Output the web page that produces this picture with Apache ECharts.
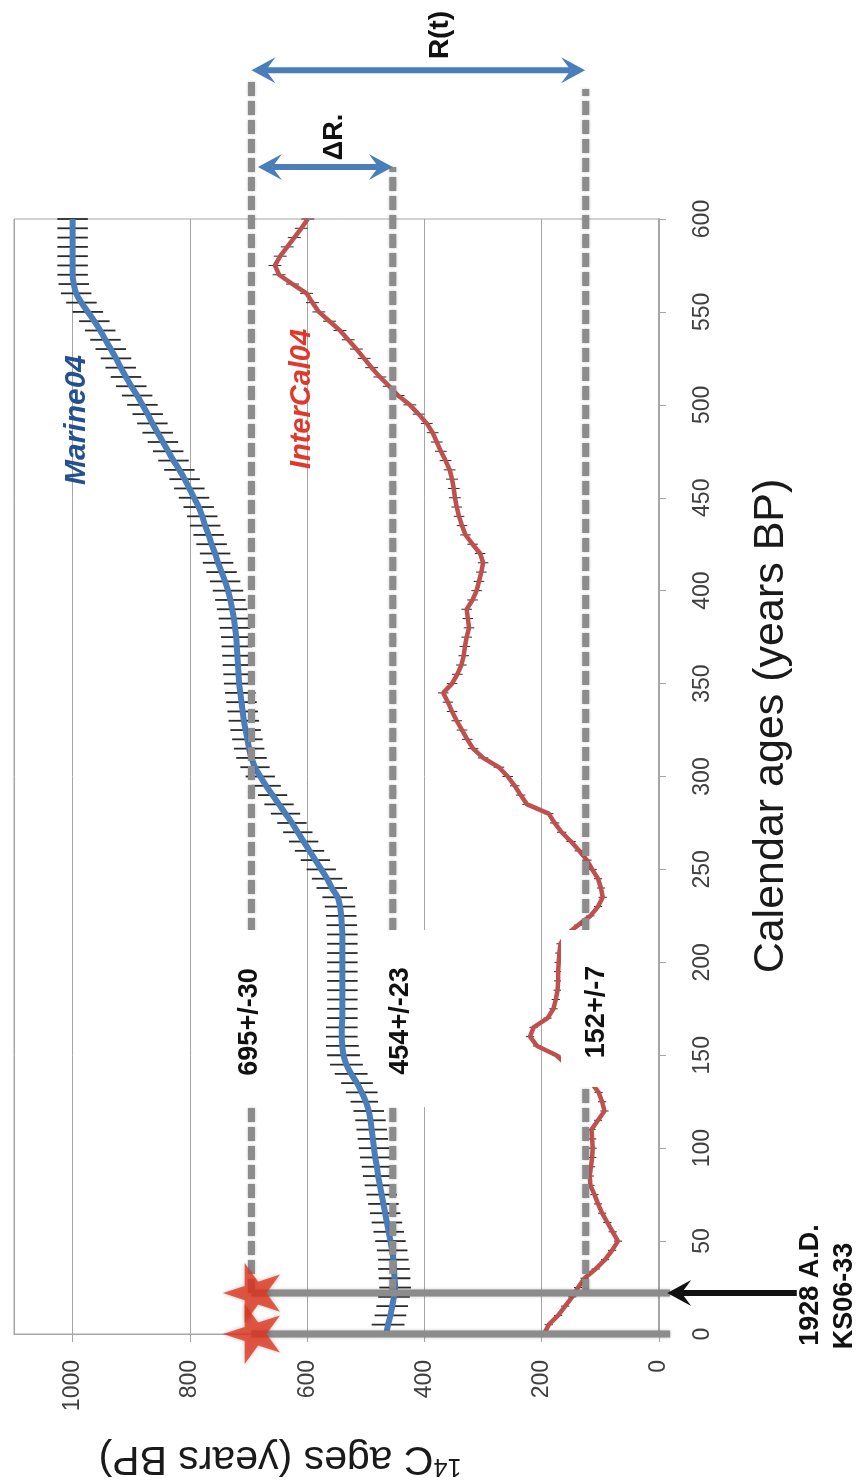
<!DOCTYPE html>
<html>
<head>
<meta charset="utf-8">
<script src="https://cdn.jsdelivr.net/npm/echarts@6/dist/echarts.min.js"></script>
<style>
  html, body { margin: 0; padding: 0; background: #fff; }
  #chart { width: 861px; height: 1484px; }
</style>
</head>
<body>
<div id="chart"></div>
<script>
// calendar ages (years BP), one point every 5 years
const calAges = [
  0, 5, 10, 15, 20, 25, 30, 35, 40, 45,
  50, 55, 60, 65, 70, 75, 80, 85, 90, 95,
  100, 105, 110, 115, 120, 125, 130, 135, 140, 145,
  150, 155, 160, 165, 170, 175, 180, 185, 190, 195,
  200, 205, 210, 215, 220, 225, 230, 235, 240, 245,
  250, 255, 260, 265, 270, 275, 280, 285, 290, 295,
  300, 305, 310, 315, 320, 325, 330, 335, 340, 345,
  350, 355, 360, 365, 370, 375, 380, 385, 390, 395,
  400, 405, 410, 415, 420, 425, 430, 435, 440, 445,
  450, 455, 460, 465, 470, 475, 480, 485, 490, 495,
  500, 505, 510, 515, 520, 525, 530, 535, 540, 545,
  550, 555, 560, 565, 570, 575, 580, 585, 590, 595, 600
];

// Marine04 14C ages
const marine04 = [
  465, 462, 458, 455, 452, 450, 451, 452, 453, 455,
  458, 461, 464, 467, 470, 473, 476, 479, 481, 484,
  486, 488, 490, 492, 495, 500, 507, 515, 525, 533,
  538, 540, 541, 541, 540, 540, 540, 540, 540, 540,
  540, 540, 540, 540, 541, 542, 544, 548, 558, 566,
  576, 586, 596, 606, 616, 626, 637, 648, 659, 670,
  680, 689, 695, 699, 702, 705, 708, 710, 712, 714,
  716, 717, 718, 719, 720, 721, 723, 725, 728, 731,
  735, 740, 746, 752, 757, 763, 768, 774, 779, 785,
  793, 801, 809, 818, 828, 837, 846, 855, 864, 872,
  881, 890, 900, 909, 918, 926, 935, 944, 953, 963,
  974, 985, 994, 998, 1000, 1000, 1000, 1000, 1000, 1000, 1000
];
const marine04Err = [
  28, 28, 27, 27, 27, 27, 27, 27, 26, 26,
  26, 26, 26, 26, 26, 26, 26, 26, 26, 26,
  26, 26, 26, 26, 26, 26, 27, 27, 28, 28,
  28, 28, 27, 27, 26, 26, 26, 26, 26, 26,
  26, 26, 26, 26, 26, 26, 26, 26, 26, 26,
  25, 25, 25, 25, 25, 25, 25, 25, 25, 25,
  25, 25, 26, 26, 26, 26, 26, 26, 26, 26,
  26, 26, 26, 26, 26, 26, 26, 26, 26, 26,
  26, 26, 26, 26, 26, 26, 26, 26, 26, 26,
  26, 26, 26, 26, 26, 26, 26, 26, 26, 26,
  26, 26, 26, 26, 26, 26, 26, 26, 26, 26,
  26, 26, 26, 26, 26, 26, 26, 26, 26, 26, 26
];

// IntCal04 14C ages
const intcal04 = [
  196, 188, 172, 160, 148, 138, 127, 108, 92, 80,
  70, 79, 88, 97, 104, 110, 117, 118, 116, 114,
  113, 114, 115, 104, 93, 97, 103, 115, 135, 158,
  175, 208, 220, 214, 190, 180, 176, 173, 172, 172,
  171, 170, 168, 158, 138, 117, 104, 96, 99, 104,
  114, 123, 136, 150, 166, 178, 188, 225, 236, 246,
  258, 273, 300, 317, 327, 336, 345, 353, 360, 368,
  353, 344, 337, 333, 331, 328, 324, 326, 328, 318,
  311, 307, 303, 300, 305, 318, 330, 336, 341, 345,
  348, 350, 353, 357, 364, 372, 379, 386, 396, 410,
  425, 445, 460, 476, 490, 503, 516, 530, 544, 562,
  580, 591, 601, 625, 648, 655, 646, 634, 622, 610, 599
];
const intcal04Err = [
  7, 7, 7, 7, 7, 7, 7, 7, 7, 7,
  7, 7, 7, 7, 7, 7, 7, 7, 7, 7,
  7, 7, 7, 7, 7, 7, 7, 7, 7, 7,
  7, 7, 7, 7, 7, 7, 7, 7, 7, 7,
  7, 7, 7, 7, 7, 7, 7, 7, 7, 7,
  8, 8, 8, 8, 8, 8, 8, 8, 8, 8,
  9, 9, 9, 9, 9, 9, 9, 9, 9, 9,
  9, 9, 9, 9, 9, 9, 9, 9, 9, 9,
  9, 9, 9, 9, 9, 9, 9, 9, 9, 9,
  10, 10, 10, 10, 10, 10, 10, 10, 10, 10,
  11, 11, 11, 11, 11, 11, 11, 11, 11, 11,
  11, 11, 11, 11, 11, 11, 11, 11, 11, 11, 11
];

// reference 14C ages (dashed lines), their labels and where they end (cal BP)
const refAges = [695, 454, 125];
const refLabels = ['695+/-30', '454+/-23', '152+/-7'];
const refTops = [676, 628, 670];

// sample KS06-33, collected 1928 A.D. = 22 cal BP, and the 0 BP line
const sampleCal = [0, 22];
const sampleAge = 695;
const lineEnd = -19;

// double arrows: [from 14C, to 14C, at cal BP]
const arrowsR = [[695, 126, 680], [684, 454, 628]];
// pointer arrow to the 1928 line
const arrow1928 = [[-235, -14, 22]];

const FONT = '"Liberation Sans", Arial, sans-serif';
const chart = echarts.init(document.getElementById('chart'));

function errBars(vals, errs, color, width) {
  return {
    type: 'custom',
    z: 2,
    silent: true,
    data: calAges.map((c, i) => [vals[i], c, errs[i]]),
    renderItem: function (params, api) {
      const v = api.value(0), c = api.value(1), e = api.value(2);
      const a = api.coord([v - e, c]);
      const b = api.coord([v + e, c]);
      return {
        type: 'line',
        shape: { x1: a[0], y1: a[1], x2: b[0], y2: b[1] },
        style: { stroke: color, lineWidth: width }
      };
    }
  };
}

function head(tip, dir, len, half, color) {
  const bx = tip[0] - dir[0] * len, by = tip[1] - dir[1] * len;
  const nx = -dir[1], ny = dir[0];
  const notch = [tip[0] - dir[0] * len * 0.6, tip[1] - dir[1] * len * 0.6];
  return {
    type: 'polygon',
    shape: { points: [tip, [bx + nx * half, by + ny * half], notch, [bx - nx * half, by - ny * half]] },
    style: { fill: color }
  };
}

function arrowSeries(data, color, both) {
  return {
    type: 'custom',
    z: 6,
    clip: false,
    silent: true,
    data: data,
    renderItem: function (params, api) {
      const p1 = api.coord([api.value(0), api.value(2)]);
      const p2 = api.coord([api.value(1), api.value(2)]);
      const d = Math.hypot(p2[0] - p1[0], p2[1] - p1[1]);
      const u = [(p2[0] - p1[0]) / d, (p2[1] - p1[1]) / d];
      const len = 24, half = 13;
      const s1 = both ? [p1[0] + u[0] * len * 0.6, p1[1] + u[1] * len * 0.6] : p1;
      const s2 = [p2[0] - u[0] * len * 0.6, p2[1] - u[1] * len * 0.6];
      const children = [{
        type: 'line',
        shape: { x1: s1[0], y1: s1[1], x2: s2[0], y2: s2[1] },
        style: { stroke: color, lineWidth: 6 }
      }, head(p2, u, len, half, color)];
      if (both) children.push(head(p1, [-u[0], -u[1]], len, half, color));
      return { type: 'group', children: children };
    }
  };
}

function label(text, x, y, font, fill, rot) {
  return {
    type: 'text', x: x, y: y, rotation: rot, z: 101,
    style: { text: text, font: font, fill: fill, align: 'center', verticalAlign: 'middle' }
  };
}

const boldF = 'bold 27px ' + FONT;

chart.setOption({
  animation: false,
  backgroundColor: '#fff',
  grid: {
    left: 14, right: 202, top: 219, bottom: 150,
    show: true, borderColor: '#a6a6a6', borderWidth: 1
  },
  xAxis: {
    type: 'value', inverse: true, min: 0, max: 1100, interval: 200, position: 'bottom',
    axisLine: { show: true, lineStyle: { color: '#a6a6a6' } },
    axisTick: { show: true, length: 8, lineStyle: { color: '#a6a6a6' } },
    axisLabel: {
      rotate: 90, margin: 26, color: '#404040', fontSize: 23, fontFamily: FONT, showMaxLabel: false,
      formatter: v => String(v)
    },
    splitLine: { show: true, lineStyle: { color: '#a6a6a6', width: 1 } }
  },
  yAxis: {
    type: 'value', min: 0, max: 600, interval: 50, position: 'right',
    axisLine: { show: true, lineStyle: { color: '#a6a6a6', width: 2 } },
    axisTick: { show: true, length: 7, lineStyle: { color: '#a6a6a6' } },
    axisLabel: { rotate: 90, margin: 32, color: '#404040', fontSize: 23, fontFamily: FONT },
    splitLine: { show: false }
  },
  series: [
    errBars(marine04, marine04Err, '#2b2b2b', 1.8),
    {
      name: 'Marine04', type: 'line', z: 3, smooth: 0.4, showSymbol: false, silent: true,
      data: calAges.map((c, i) => [marine04[i], c]),
      lineStyle: { color: '#4a7ebb', width: 6 }
    },
    errBars(intcal04, intcal04Err, '#2b2b2b', 1),
    {
      name: 'IntCal04', type: 'line', z: 3, showSymbol: false, silent: true,
      data: calAges.map((c, i) => [intcal04[i], c]),
      lineStyle: { color: '#c0504d', width: 4.5 }
    },
    {
      // dashed reference lines
      type: 'custom', z: 5, clip: false, silent: true,
      data: refAges.map((v, i) => [v, sampleCal[1], refTops[i]]),
      renderItem: function (params, api) {
        const a = api.coord([api.value(0), api.value(1)]);
        const b = api.coord([api.value(0), api.value(2)]);
        return {
          type: 'line',
          shape: { x1: a[0], y1: a[1], x2: b[0], y2: b[1] },
          style: { stroke: '#8c8c8c', lineWidth: 7, lineDash: [14, 5], shadowBlur: 3, shadowColor: 'rgba(0,0,0,0.25)' }
        };
      }
    },
    {
      // solid lines for 0 BP and 1928 A.D.
      type: 'custom', z: 5, clip: false, silent: true,
      data: sampleCal.map(c => [sampleAge, lineEnd, c]),
      renderItem: function (params, api) {
        const a = api.coord([api.value(0), api.value(2)]);
        const b = api.coord([api.value(1), api.value(2)]);
        return {
          type: 'line',
          shape: { x1: a[0], y1: a[1], x2: b[0], y2: b[1] },
          style: { stroke: '#8c8c8c', lineWidth: 7, shadowBlur: 3, shadowColor: 'rgba(0,0,0,0.25)' }
        };
      }
    },
    arrowSeries(arrowsR, '#4a7ebb', true),
    arrowSeries(arrow1928, '#111111', false),
    {
      type: 'scatter', z: 8, clip: false, silent: true,
      data: sampleCal.map(c => [sampleAge, c]),
      symbol: 'path://M50,0 L61.2,34.5 L97.6,34.5 L68.2,55.9 L79.4,90.5 L50,69.1 L20.6,90.5 L31.8,55.9 L2.4,34.5 L38.8,34.5 Z',
      symbolKeepAspect: true,
      symbolSize: 60,
      symbolRotate: 90,
      itemStyle: { color: '#e3371e', shadowBlur: 4, shadowColor: 'rgba(0,0,0,0.3)' }
    }
  ],
  graphic: [
    { type: 'rect', z: 100, shape: { x: 236, y: 930, width: 30, height: 176 }, style: { fill: '#fff' } },
    { type: 'rect', z: 100, shape: { x: 378, y: 930, width: 58, height: 177 }, style: { fill: '#fff' } },
    { type: 'rect', z: 100, shape: { x: 561, y: 930, width: 62, height: 157 }, style: { fill: '#fff' } },
    label(refLabels[0], 250, 1022, boldF, '#111', Math.PI / 2),
    label(refLabels[1], 401, 1021, boldF, '#111', Math.PI / 2),
    label(refLabels[2], 597, 1012, boldF, '#111', Math.PI / 2),
    label('R(t)', 440, 35, 'bold 28px ' + FONT, '#111', Math.PI / 2),
    label('\u0394R.', 335, 137, boldF, '#111', Math.PI / 2),
    label('Marine04', 77, 420, 'italic bold 30px ' + FONT, '#24508f', Math.PI / 2),
    label('InterCal04', 302, 399, 'italic bold 29px ' + FONT, '#e2382b', Math.PI / 2),
    label('1928 A.D.', 811, 1285, boldF, '#111', Math.PI / 2),
    label('KS06-33', 845, 1296, boldF, '#111', Math.PI / 2),
    label('Calendar ages (years BP)', 771, 726, '43px ' + FONT, '#1a1a1a', Math.PI / 2),
    {
      type: 'text', x: 280, y: 1458, rotation: Math.PI, z: 101,
      style: {
        text: '{s|14}{n|C ages (years BP)}',
        align: 'center', verticalAlign: 'middle', fill: '#1a1a1a',
        rich: {
          s: { fontSize: 25, fontFamily: FONT, fill: '#1a1a1a', verticalAlign: 'top' },
          n: { fontSize: 41, fontFamily: FONT, fill: '#1a1a1a' }
        }
      }
    }
  ]
});
</script>
</body>
</html>
